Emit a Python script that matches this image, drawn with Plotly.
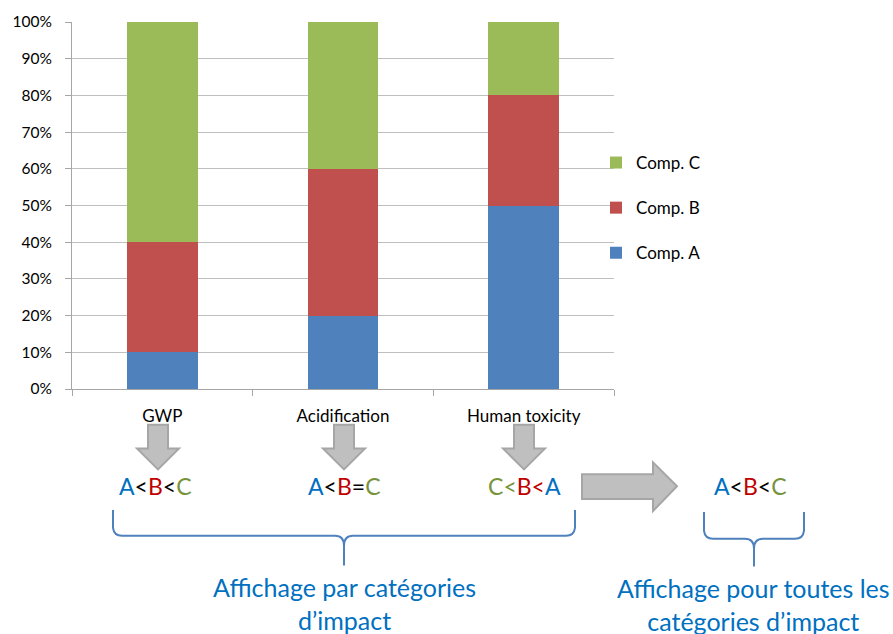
import plotly.graph_objects as go

# ---- data ----
categories = ["GWP", "Acidification", "Human toxicity"]
comp_a = [0.10, 0.20, 0.50]
comp_b = [0.30, 0.40, 0.30]
comp_c = [0.60, 0.40, 0.20]
series_names = ["Comp. A", "Comp. B", "Comp. C"]
legend_ranks = [3, 2, 1]
y_ticks = [0.0, 0.1, 0.2, 0.3, 0.4, 0.5, 0.6, 0.7, 0.8, 0.9, 1.0]

colors = ["#4F81BD", "#C0504D", "#9BBB59"]
FONT = "Lato"

W, H = 893, 634
L, R, T, B = 72, 614, 19, 389


def X(p):
    return (p - L) / (R - L)


def Y(p):
    return (B - p) / (B - T)


def path(cmds):
    out = []
    for c in cmds:
        op = c[0]
        pts = c[1:]
        coords = []
        for i in range(0, len(pts), 2):
            coords.append(f"{X(pts[i]):.5f},{Y(pts[i+1]):.5f}")
        out.append(op + " " + " ".join(coords))
    return " ".join(out)


fig = go.Figure()
for name, vals, col, rk in zip(series_names, [comp_a, comp_b, comp_c], colors, legend_ranks):
    fig.add_trace(go.Bar(x=categories, y=vals, name=name, marker_color=col,
                         marker_line_width=0, legendgroup=name, legendrank=rk))

shapes = []
# down arrows
for cx in [158, 344, 524]:
    shapes.append(dict(type="path", xref="paper", yref="paper",
                       path=path([("M", cx - 10, 425), ("L", cx + 10, 425), ("L", cx + 10, 449),
                                  ("L", cx + 21, 449), ("L", cx, 470), ("L", cx - 21, 449),
                                  ("L", cx - 10, 449)]) + " Z",
                       fillcolor="#BFBFBF", line=dict(color="#A6A6A6", width=2)))
# right arrow
shapes.append(dict(type="path", xref="paper", yref="paper",
                   path=path([("M", 582, 475), ("L", 653, 475), ("L", 653, 463), ("L", 677, 487),
                              ("L", 653, 512), ("L", 653, 500), ("L", 582, 500)]) + " Z",
                   fillcolor="#BFBFBF", line=dict(color="#A6A6A6", width=2)))


def brace(x0, x1, ytop, ymid, ytip):
    cx = (x0 + x1) / 2
    return path([("M", x0, ytop), ("L", x0, ymid - 8), ("Q", x0 + 1, ymid, x0 + 9, ymid),
                 ("L", cx - 9, ymid), ("Q", cx, ymid, cx, ymid + 10), ("L", cx, ytip),
                 ("M", cx, ymid + 10), ("Q", cx, ymid, cx + 9, ymid),
                 ("L", x1 - 9, ymid), ("Q", x1 - 1, ymid, x1, ymid - 8), ("L", x1, ytop)])


shapes.append(dict(type="path", xref="paper", yref="paper", path=brace(113, 575, 511, 537, 567),
                   line=dict(color="#4F81BD", width=2)))
shapes.append(dict(type="path", xref="paper", yref="paper", path=brace(704, 804, 513, 540, 568),
                   line=dict(color="#4F81BD", width=2)))

BL, RD, GR, BK = "#0070C0", "#C00000", "#77933C", "#000000"


def sp(t, c):
    return f'<span style="color:{c}">{t}</span>'


annos = []
order_texts = [
    (155, sp("A", BL) + sp("&lt;", BK) + sp("B", RD) + sp("&lt;", BK) + sp("C", GR)),
    (344, sp("A", BL) + sp("&lt;", BK) + sp("B", RD) + sp("=", BK) + sp("C", GR)),
    (524, sp("C", GR) + sp("&lt;", GR) + sp("B", RD) + sp("&lt;", RD) + sp("A", BL)),
    (750, sp("A", BL) + sp("&lt;", BK) + sp("B", RD) + sp("&lt;", BK) + sp("C", GR)),
]
for cx, t in order_texts:
    annos.append(dict(x=X(cx), y=Y(487), xref="paper", yref="paper", text=t, showarrow=False,
                      xanchor="center", yanchor="middle", font=dict(family=FONT, size=23)))
annos.append(dict(x=X(344), y=Y(605), xref="paper", yref="paper",
                  text="Affichage par catégories<br>d’impact", showarrow=False,
                  xanchor="center", yanchor="middle", font=dict(family=FONT, size=25, color="#0070C0")))
annos.append(dict(x=X(753), y=Y(606), xref="paper", yref="paper",
                  text="Affichage pour toutes les<br>catégories d’impact", showarrow=False,
                  xanchor="center", yanchor="middle", font=dict(family=FONT, size=25, color="#0070C0")))

fig.update_layout(
    width=W, height=H,
    margin=dict(l=L, r=W - R, t=T, b=H - B, pad=0),
    barmode="stack", bargap=0.61,
    plot_bgcolor="white", paper_bgcolor="white",
    font=dict(family=FONT, size=16, color="#000000"),
    showlegend=True,
    legend=dict(x=X(596), y=Y(143), xanchor="left", yanchor="top", traceorder="grouped",
                tracegroupgap=20, font=dict(size=17), itemwidth=30, bgcolor="rgba(0,0,0,0)"),
    shapes=shapes, annotations=annos,
    xaxis=dict(type="category", showgrid=False, showline=True, linecolor="#A6A6A6", linewidth=1,
               ticks="outside", tickson="boundaries", ticklen=6, tickcolor="#A6A6A6",
               tickfont=dict(size=17), ticklabelstandoff=12, fixedrange=True),
    yaxis=dict(range=[0, 1], tickvals=y_ticks, tickformat=".0%", showgrid=True, gridcolor="#BFBFBF",
               gridwidth=1, showline=True, linecolor="#A6A6A6", linewidth=1, ticks="outside",
               ticklen=6, tickcolor="#A6A6A6", tickfont=dict(size=15.5), ticklabelstandoff=10,
               zeroline=False, fixedrange=True),
)

fig.write_html("out.html", config={"displayModeBar": False},
               post_script="document.body.style.margin='0';document.body.style.padding='0';")
